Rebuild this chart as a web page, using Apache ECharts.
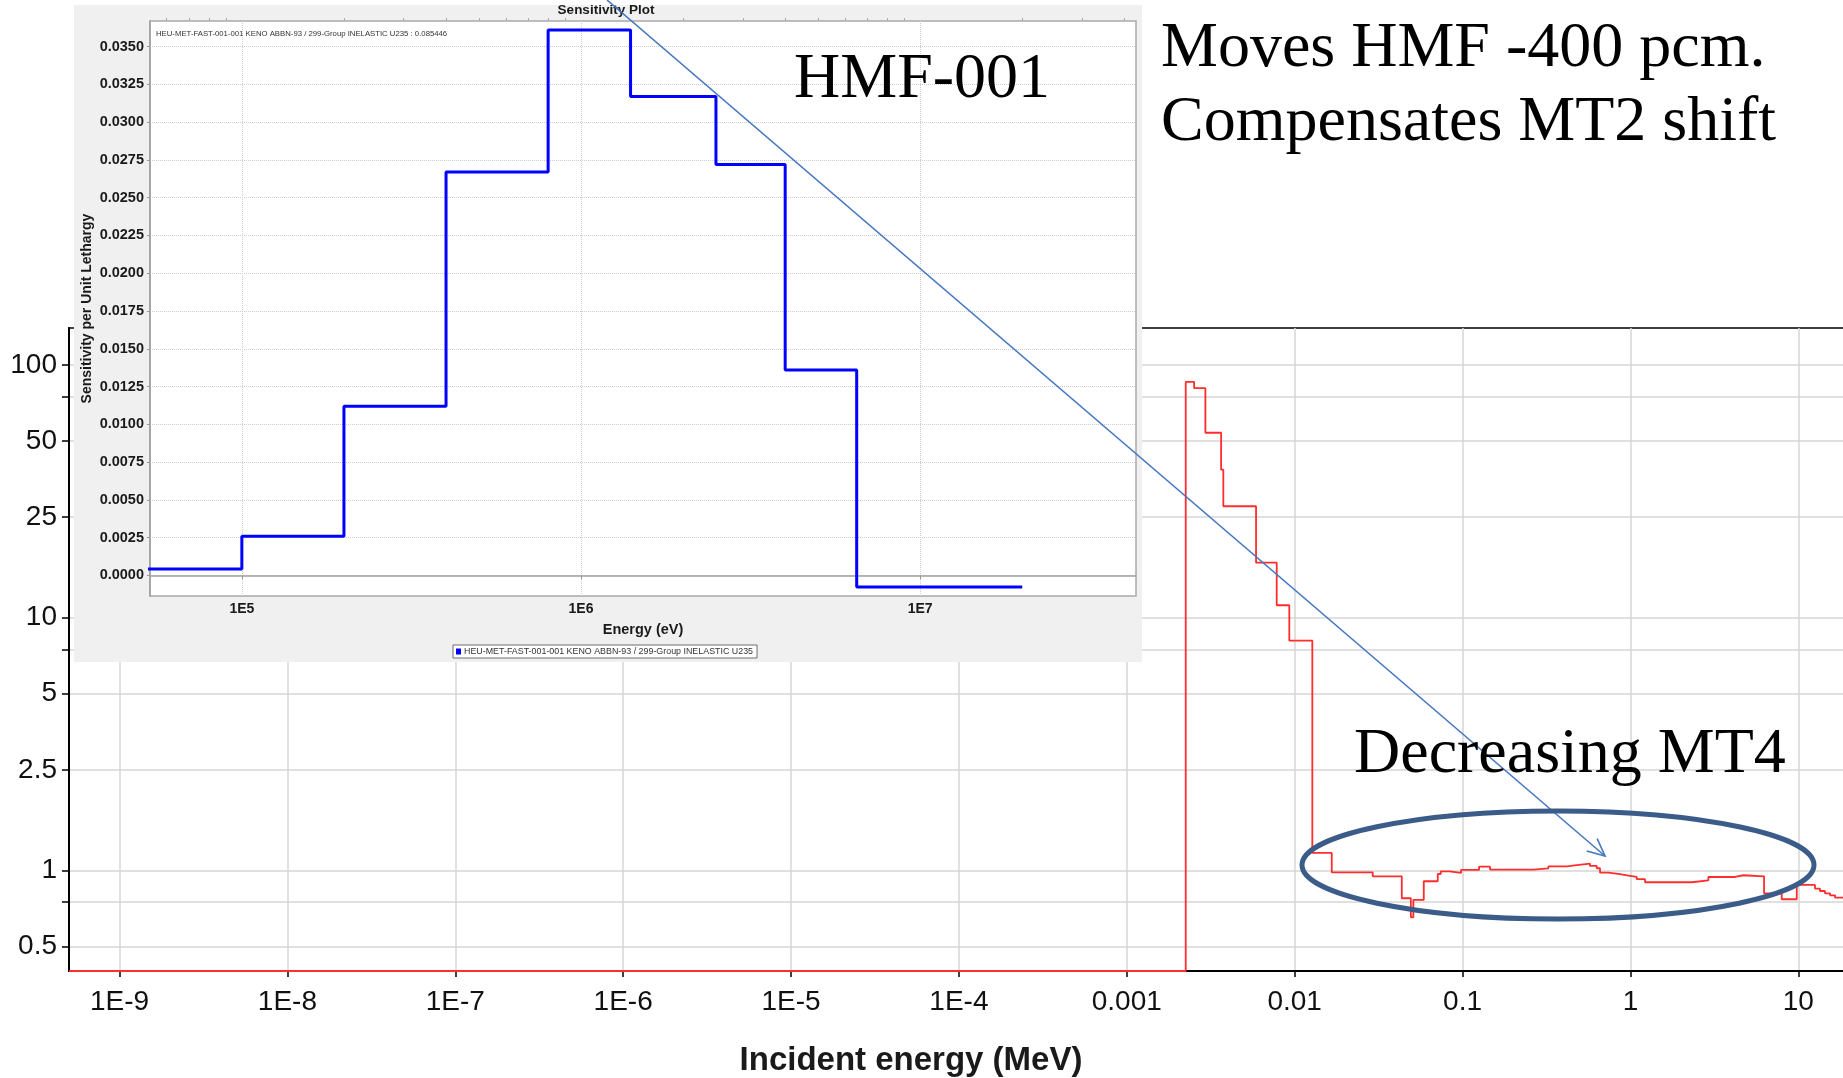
<!DOCTYPE html>
<html><head><meta charset="utf-8">
<script src="https://cdn.jsdelivr.net/npm/echarts@6/dist/echarts.min.js"></script>
<style>html,body{margin:0;padding:0;background:#fff}#c{width:1843px;height:1078px}</style>
</head><body><div id="c"></div>
<script>
// ---- main chart: incident energy (MeV) where each step begins, and its value ----
const mainEnergy = [5e-10, 0.002244, 0.002518, 0.002938, 0.003646, 0.003758, 0.005888, 0.007816, 0.00929,
  0.01274, 0.01663, 0.02917, 0.04345, 0.0492, 0.05093, 0.05875, 0.07117, 0.07413, 0.08337, 0.09795,
  0.1254, 0.1458, 0.2642, 0.3246, 0.418, 0.479, 0.574, 0.630, 0.659, 0.739, 0.867, 0.972, 1.091,
  1.222, 2.317, 2.911, 4.198, 4.707, 6.252, 7.963, 9.79, 12.57, 13.46, 14.42, 15.45, 16.56, 20];
const mainValue = [0, 85.7, 80.9, 53.9, 38.5, 27.6, 16.5, 11.2, 8.12,
  1.173, 0.983, 0.948, 0.776, 0.652, 0.764, 0.906, 0.968, 0.992, 0.977, 1.005,
  1.035, 1.007, 1.019, 1.038, 1.049, 1.064, 1.042, 1.020, 0.980, 0.966, 0.954, 0.942, 0.923,
  0.898, 0.914, 0.942, 0.957, 0.948, 0.812, 0.769, 0.876, 0.847, 0.829, 0.812, 0.797, 0.780, 0.780];
const mainXTicks = [1e-9, 1e-8, 1e-7, 1e-6, 1e-5, 1e-4, 1e-3, 1e-2, 1e-1, 1, 10];
const mainXLabels = ['1E-9', '1E-8', '1E-7', '1E-6', '1E-5', '1E-4', '0.001', '0.01', '0.1', '1', '10'];
const mainYTicks = [0.5, 0.75, 1, 2.5, 5, 7.5, 10, 25, 50, 75, 100];
const mainYLabels = [0.5, 1, 2.5, 5, 10, 25, 50, 100];

// ---- inset chart: energy (eV) where each group begins, sensitivity per unit lethargy ----
const insetName = 'HEU-MET-FAST-001-001 KENO ABBN-93 / 299-Group INELASTIC U235';
const insetEnergy = [4.65e4, 1e5, 2e5, 4e5, 8e5, 1.4e6, 2.5e6, 4e6, 6.5e6, 2e7];
const insetValue = [0.00042, 0.00259, 0.0112, 0.0267, 0.0361, 0.0317, 0.0272, 0.0136, -0.00078, -0.00078];
const insetXTicks = [1e5, 1e6, 1e7];
const insetXLabels = ['1E5', '1E6', '1E7'];
const insetMinorTicks = [6e4, 7e4, 8e4, 9e4, 2e5, 3e5, 4e5, 5e5, 6e5, 7e5, 8e5, 9e5,
  2e6, 3e6, 4e6, 5e6, 6e6, 7e6, 8e6, 9e6, 2e7, 3e7, 4e7];
const insetYTicks = [0, 0.0025, 0.005, 0.0075, 0.01, 0.0125, 0.015, 0.0175, 0.02, 0.0225, 0.025, 0.0275, 0.03, 0.0325, 0.035];

const MAIN_Y_MIN = 0.4, MAIN_Y_MAX = 140;
const SANS = '"Liberation Sans", Arial, sans-serif';
const SERIF = '"Liberation Serif", "Times New Roman", serif';

function labelFor(ticks, labels) {
  return function (v) {
    for (let i = 0; i < ticks.length; i++) {
      if (Math.abs(Math.log10(v) - Math.log10(ticks[i])) < 1e-6) return labels[i];
    }
    return '';
  };
}

const chart = echarts.init(document.getElementById('c'), null, { renderer: 'canvas' });

function txt(text, x, y, font, fill, align, zlevel, z) {
  return {
    type: 'text', x: x, y: y, zlevel: zlevel, z: z, silent: true,
    style: { text: text, font: font, fill: fill, align: align, textAlign: align,
      verticalAlign: 'middle', textVerticalAlign: 'middle' }
  };
}

const option = {
  animation: false,
  backgroundColor: '#ffffff',
  grid: [
    { left: 69, top: 328, right: -4, bottom: 107, show: true, borderColor: '#000', borderWidth: 1.5,
      backgroundColor: 'transparent', zlevel: 0, z: 0, containLabel: false, outerBoundsMode: 'none' },
    { left: 150, top: 21, right: 707, bottom: 482, show: true, borderColor: '#a9a9a9', borderWidth: 1.5,
      backgroundColor: '#ffffff', zlevel: 1, z: 2, containLabel: false, outerBoundsMode: 'none' }
  ],
  xAxis: [
    { type: 'log', gridIndex: 0, min: 5e-10, max: 19.5, zlevel: 0, z: 1,
      axisLine: { show: true, lineStyle: { color: '#000', width: 2 } },
      axisTick: { show: true, customValues: mainXTicks, length: 6, lineStyle: { color: '#000', width: 1.5 } },
      axisLabel: { customValues: mainXTicks, formatter: labelFor(mainXTicks, mainXLabels),
        fontSize: 28, fontFamily: SANS, color: '#111', margin: 17 },
      splitLine: { show: true, lineStyle: { color: '#d6d6d6', width: 1.5 } },
      name: 'Incident energy (MeV)', nameLocation: 'middle', nameGap: 73,
      nameTextStyle: { fontSize: 33, fontWeight: 'bold', fontFamily: SANS, color: '#1a1a1a', padding: [0, 94, 0, 0] }
    },
    { type: 'log', gridIndex: 1, min: 5.36e4, max: 4.33e7, zlevel: 1, z: 3,
      axisLine: { show: true, lineStyle: { color: '#a0a0a0', width: 1.5 } },
      axisTick: { show: true, customValues: insetXTicks, length: 4, lineStyle: { color: '#999' } },
      axisLabel: { customValues: insetXTicks, formatter: labelFor(insetXTicks, insetXLabels),
        fontSize: 14, fontWeight: 'bold', fontFamily: SANS, color: '#1a1a1a', margin: 6 },
      splitLine: { show: true, lineStyle: { color: '#cdcdcd', width: 1, type: 'dotted' } },
      name: 'Energy (eV)', nameLocation: 'middle', nameGap: 26,
      nameTextStyle: { fontSize: 14.5, fontWeight: 'bold', fontFamily: SANS, color: '#1a1a1a' }
    },
    { type: 'log', gridIndex: 1, min: 5.36e4, max: 4.33e7, zlevel: 1, z: 3,
      axisLine: { show: false },
      axisTick: { show: true, customValues: insetMinorTicks, length: 3, lineStyle: { color: '#aaa' } },
      axisLabel: { show: false }, splitLine: { show: false }
    }
  ],
  yAxis: [
    { type: 'log', gridIndex: 0, min: MAIN_Y_MIN, max: MAIN_Y_MAX, zlevel: 0, z: 1,
      axisLine: { show: true, lineStyle: { color: '#000', width: 2 } },
      axisTick: { show: true, customValues: mainYTicks, length: 7, lineStyle: { color: '#000', width: 1.5 } },
      axisLabel: { customValues: mainYLabels, formatter: function (v) { return String(Number(v.toPrecision(6))); },
        fontSize: 28, fontFamily: SANS, color: '#111', margin: 12 },
      splitLine: { show: true, lineStyle: { color: '#d6d6d6', width: 1.5 } }
    },
    { type: 'value', gridIndex: 1, min: -0.00137, max: 0.0367, zlevel: 1, z: 3,
      axisLine: { show: true, lineStyle: { color: '#a0a0a0', width: 1.5 } },
      axisTick: { show: true, customValues: insetYTicks, length: 3, lineStyle: { color: '#999' } },
      axisLabel: { customValues: insetYTicks, formatter: function (v) { return (Math.abs(v) < 1e-9 ? 0 : v).toFixed(4); },
        fontSize: 14.5, fontWeight: 'bold', fontFamily: SANS, color: '#1a1a1a', margin: 6 },
      splitLine: { show: true, lineStyle: { color: '#cdcdcd', width: 1, type: 'dotted' } },
      name: 'Sensitivity per Unit Lethargy', nameLocation: 'middle', nameGap: 56, nameMoveOverlap: false,
      nameTextStyle: { fontSize: 14, fontWeight: 'bold', fontFamily: SANS, color: '#1a1a1a' }
    }
  ],
  legend: {
    data: [insetName], selectedMode: false, zlevel: 1, z: 8,
    left: 453, top: 645, orient: 'horizontal',
    icon: 'rect', itemWidth: 5, itemHeight: 6, itemGap: 4,
    backgroundColor: '#ffffff', borderColor: '#6e6e6e', borderWidth: 1, padding: [2, 4, 2, 3],
    textStyle: { fontSize: 8.9, fontFamily: SANS, color: '#333', padding: [0, 0, 0, -2] }
  },
  series: [
    { type: 'line', name: 'main', xAxisIndex: 0, yAxisIndex: 0, step: 'end', symbol: 'none',
      zlevel: 0, z: 3, clip: true,
      lineStyle: { color: '#ff2d2d', width: 1.8 },
      data: mainEnergy.map(function (e, i) { return [e, mainValue[i] > 0 ? mainValue[i] : MAIN_Y_MIN]; })
    },
    { type: 'line', name: insetName, xAxisIndex: 1, yAxisIndex: 1, step: 'end', symbol: 'none',
      zlevel: 1, z: 5, clip: true,
      itemStyle: { color: '#0000ff' },
      lineStyle: { color: '#0000ff', width: 3 },
      data: insetEnergy.map(function (e, i) { return [e, insetValue[i]]; })
    }
  ],
  graphic: { elements: [
    { type: 'rect', zlevel: 1, z: 0, silent: true,
      shape: { x: 74, y: 5, width: 1068, height: 657 }, style: { fill: '#f0f0f0' } },
    txt('Sensitivity Plot', 606, 10, 'bold 13.5px ' + SANS, '#1a1a1a', 'center', 1, 10),
    txt(insetName + ' : 0.085446', 156, 33.5, '7.75px ' + SANS, '#333', 'left', 1, 10),
    txt('HMF-001', 794, 80.5, '64px ' + SERIF, '#000', 'left', 2, 10),
    txt('Moves HMF -400 pcm.', 1161, 49.5, '64px ' + SERIF, '#000', 'left', 2, 10),
    txt('Compensates MT2 shift', 1161, 123.5, '64px ' + SERIF, '#000', 'left', 2, 10),
    txt('Decreasing MT4', 1354, 755, '64px ' + SERIF, '#000', 'left', 2, 10),
    { type: 'line', zlevel: 2, z: 5, silent: true,
      shape: { x1: 607, y1: 0, x2: 1605, y2: 856 }, style: { stroke: '#4676c2', lineWidth: 1.6 } },
    { type: 'polyline', zlevel: 2, z: 5, silent: true,
      shape: { points: [[1586.7, 850.9], [1605, 856], [1597.2, 838.7]] },
      style: { stroke: '#4676c2', lineWidth: 1.6, fill: null } },
    { type: 'ellipse', zlevel: 2, z: 6, silent: true,
      shape: { cx: 1558, cy: 865, rx: 256, ry: 54 },
      style: { fill: null, stroke: '#3b5b88', lineWidth: 5 } }
  ] }
};
chart.setOption(option);
</script>
</body></html>
